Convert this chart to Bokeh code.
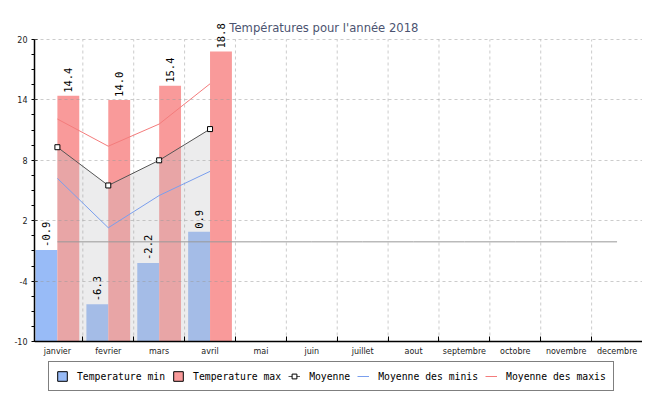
import math
from bokeh.plotting import figure
from bokeh.models import Range1d, FixedTicker, Legend, LegendItem, Label
from bokeh.core.properties import value
from bokeh.embed import file_html
from bokeh.resources import INLINE

# ---- data ----
mois = ["janvier", "fevrier", "mars", "avril", "mai", "juin", "juillet",
        "aout", "septembre", "octobre", "novembre", "decembre"]
temp_min = [-0.9, -6.3, -2.2, 0.9]
temp_max = [14.4, 14.0, 15.4, 18.8]
moyenne = [9.3, 5.5, 8.0, 11.1]
moyenne_minis = [6.2, 1.3, 4.5, 6.9]
moyenne_maxis = [12.1, 9.4, 11.6, 15.6]
ligne_grise = [-0.1, -0.1, -0.1, -0.1, -0.1, -0.1, -0.1, -0.1, -0.1, -0.1, -0.1, -0.1]
y_ticks = [-10, -4, 2, 8, 14, 20]
titre = "Températures pour l'année 2018"

# ---- style ----
BLUE = "#98BBF7"
RED = "#F99A9A"
MONO = "DejaVu Sans Mono"
bar_w = 0.43
Y_LO, Y_HI = -10, 20
Y_TOP = 23.874         # room above the axis for title and rotated labels
Y_BOT = -15.066        # room below the axis for tick labels and legend

n_all = len(mois)
xc_all = [i + 0.5 for i in range(n_all)]
bounds_x = [float(i) for i in range(1, n_all + 1)]
n = len(temp_min)
xc = xc_all[:n]
x_min = [x - bar_w / 2 for x in xc]
x_max = [x + bar_w / 2 for x in xc]

p = figure(width=642, height=392, x_range=Range1d(0.05, 12), y_range=Range1d(Y_BOT, Y_TOP),
           output_backend="svg", toolbar_location=None,
           min_border_left=34, min_border_right=0, min_border_top=0, min_border_bottom=0)
p.title.visible = False
p.outline_line_color = None
p.background_fill_color = "white"
p.border_fill_color = "white"

# title
p.add_layout(Label(x=3.88, y=21.1, text=titre, text_align="left", text_baseline="alphabetic",
                   text_font="DejaVu Sans", text_font_size="11.6px", text_color="#4B5370"))

# bars
p.vbar(x=x_min, bottom=Y_LO, top=temp_min, width=bar_w, fill_color=BLUE, line_color=None)
p.vbar(x=x_max, bottom=Y_LO, top=temp_max, width=bar_w, fill_color=RED, line_color=None)

# translucent area under the average line
p.varea(x=xc, y1=Y_LO, y2=moyenne, fill_color="#BFC1C4", fill_alpha=0.3)

# vertical grid lines between months
p.segment(x0=bounds_x, y0=Y_LO, x1=bounds_x, y1=Y_HI, line_color="#999999",
          line_alpha=0.5, line_dash="3 3", line_width=1)

# horizontal grey line
p.line(x=xc_all, y=ligne_grise, line_color="#999999", line_width=1)

# lines
r_minis = p.line(x=xc, y=moyenne_minis, line_color="#7A9FEE", line_width=1)
r_maxis = p.line(x=xc, y=moyenne_maxis, line_color="#F47C7C", line_width=1)
r_moy = p.line(x=xc, y=moyenne, line_color="#555555", line_width=1)
r_moy_pts = p.scatter(x=xc, y=moyenne, marker="square", size=5, fill_color="white",
                      line_color="black", line_width=1)

# bar value labels
p.text(x=x_min, y=temp_min, text=[f"{v:.1f}" for v in temp_min], angle=math.pi / 2,
       text_align="left", text_baseline="middle", y_offset=-3,
       text_font=value(MONO), text_font_size="10.5px", text_color="black")
p.text(x=x_max, y=temp_max, text=[f"{v:.1f}" for v in temp_max], angle=math.pi / 2,
       text_align="left", text_baseline="middle", y_offset=-3,
       text_font=value(MONO), text_font_size="10.5px", text_color="black")

# x axis, pinned at y = -10
p.xaxis.fixed_location = Y_LO
p.xaxis.ticker = FixedTicker(ticks=xc_all, minor_ticks=bounds_x)
p.xaxis.major_label_overrides = {x: m for x, m in zip(xc_all, mois)}
p.xaxis.major_tick_in = 0
p.xaxis.major_tick_out = 0
p.xaxis.minor_tick_in = 5
p.xaxis.minor_tick_out = 0
p.xaxis.axis_line_color = "black"
p.xaxis.axis_line_width = 1.5
p.xaxis.minor_tick_line_color = "black"
p.xaxis.major_label_standoff = 5
p.xaxis.major_label_text_font = "DejaVu Sans"
p.xaxis.major_label_text_font_size = "8px"
p.xaxis.major_label_text_color = "#222222"

# y axis
minor_y = [Y_LO + 1.5 * k for k in range(21) if (1.5 * k) % 6 != 0]
p.yaxis.ticker = FixedTicker(ticks=y_ticks, minor_ticks=minor_y)
p.yaxis.bounds = (Y_LO, Y_HI)
p.yaxis.major_label_overrides = {t: str(t) for t in y_ticks}
p.yaxis.major_tick_in = 3
p.yaxis.major_tick_out = 3
p.yaxis.minor_tick_in = 0
p.yaxis.minor_tick_out = 3
p.yaxis.axis_line_color = "black"
p.yaxis.axis_line_width = 1.5
p.yaxis.major_tick_line_color = "black"
p.yaxis.minor_tick_line_color = "black"
p.yaxis.major_label_standoff = 4
p.yaxis.major_label_text_font = "DejaVu Sans"
p.yaxis.major_label_text_font_size = "8px"
p.yaxis.major_label_text_color = "#222222"

# grids
p.xgrid.visible = False
p.ygrid.ticker = FixedTicker(ticks=y_ticks[1:])
p.ygrid.grid_line_color = "#999999"
p.ygrid.grid_line_alpha = 0.5
p.ygrid.grid_line_dash = "3 3"
p.ygrid.level = "overlay"

# legend-only renderers (hidden, used for the boxed legend swatches)
leg_min = p.vbar(x=x_min, bottom=Y_LO, top=temp_min, width=bar_w, fill_color=BLUE,
                 line_color="black", visible=False)
leg_max = p.vbar(x=x_max, bottom=Y_LO, top=temp_max, width=bar_w, fill_color=RED,
                 line_color="black", visible=False)

legend = Legend(items=[
    LegendItem(label="Temperature min", renderers=[leg_min]),
    LegendItem(label="Temperature max", renderers=[leg_max]),
    LegendItem(label="Moyenne", renderers=[r_moy, r_moy_pts]),
    LegendItem(label="Moyenne des minis", renderers=[r_minis]),
    LegendItem(label="Moyenne des maxis", renderers=[r_maxis]),
], orientation="horizontal", location=(14, 1))
legend.label_text_font = MONO
legend.label_text_font_size = "9.75px"
legend.label_text_color = "black"
legend.label_height = 14
legend.glyph_height = 12
legend.glyph_width = 12
legend.label_standoff = 9
legend.spacing = 7
legend.padding = 7
legend.margin = 0
legend.border_line_color = "black"
legend.border_line_width = 1
legend.background_fill_color = "white"
legend.background_fill_alpha = 1
legend.inactive_fill_alpha = 0
p.add_layout(legend)

open("out.html", "w").write(file_html(p, INLINE))
